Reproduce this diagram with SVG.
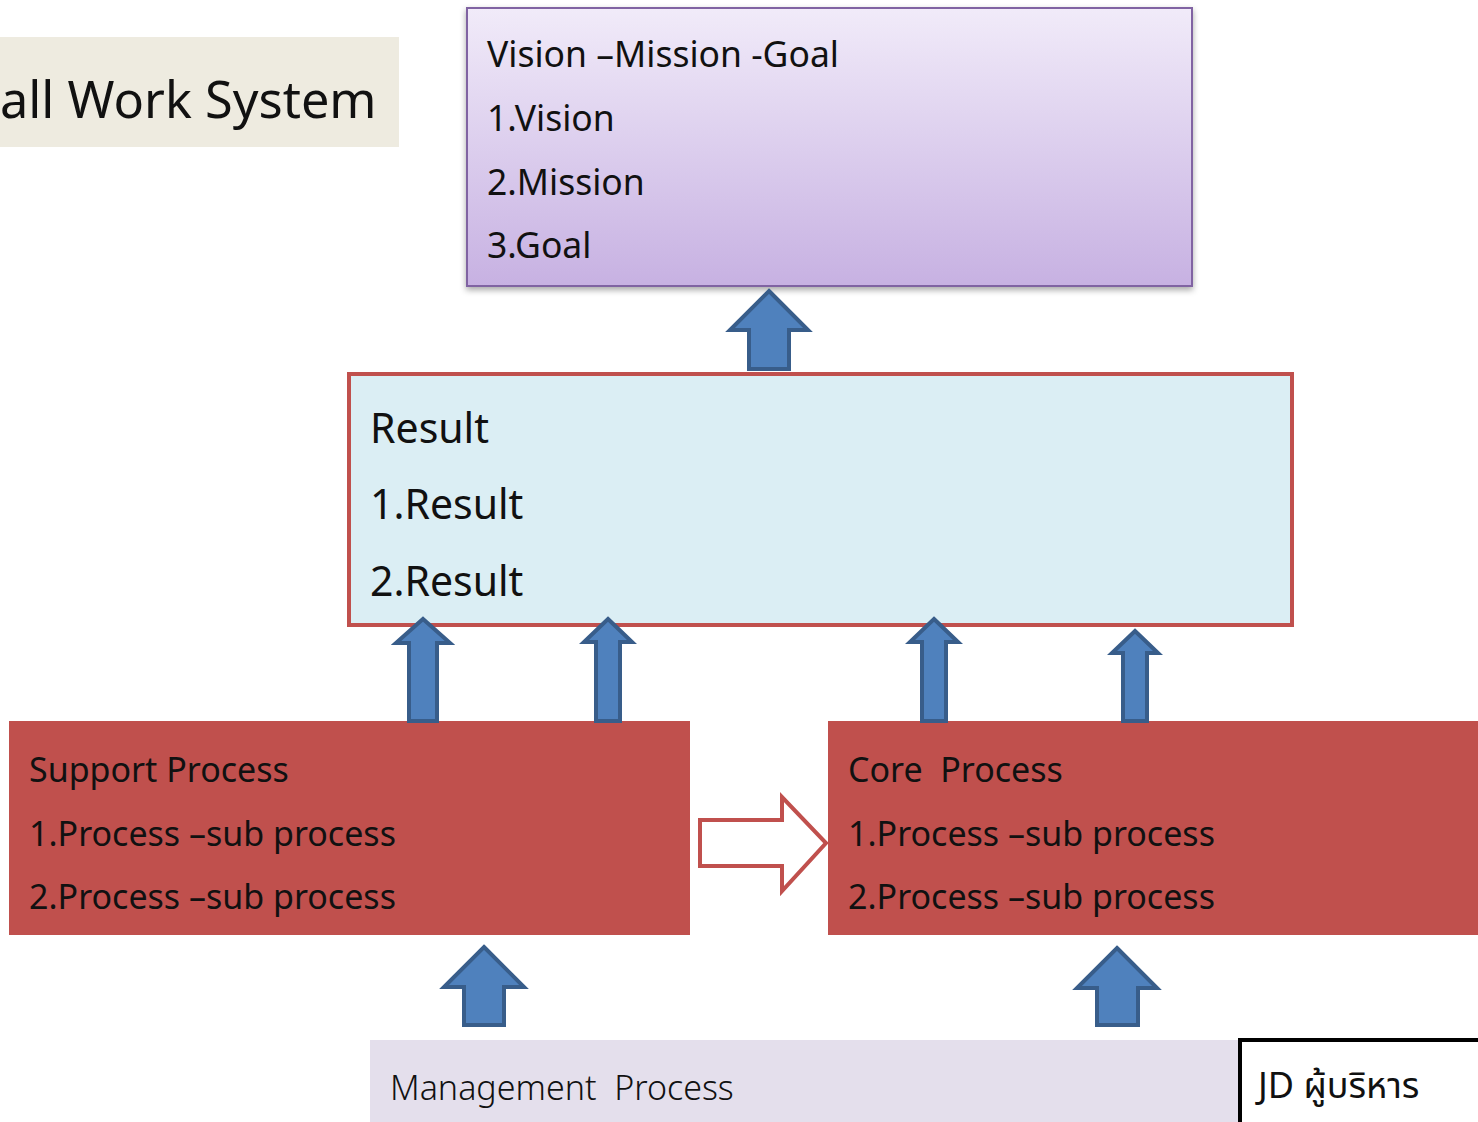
<svg xmlns="http://www.w3.org/2000/svg" width="1478" height="1122" viewBox="0 0 1478 1122">
<defs>
<linearGradient id="vg" x1="0" y1="0" x2="0" y2="1">
<stop offset="0" stop-color="#F1EBF9"/>
<stop offset="1" stop-color="#C7B1E2"/>
</linearGradient>
<filter id="sh" x="-5%" y="-5%" width="110%" height="115%">
<feDropShadow dx="0" dy="3" stdDeviation="3" flood-color="#000" flood-opacity="0.35"/>
</filter>
</defs>
<style>
text{font-family:"Noto Sans","Noto Sans Thai","DejaVu Sans",sans-serif;fill:#111;}
.t36{font-size:34px;}
.tv{font-size:35.5px;}
.t42{font-size:41px;}
.up{fill:#4F81BD;stroke:#385D8A;stroke-width:4;stroke-linejoin:miter;}
.proc{fill:#C0504D;}
</style>
<rect width="1478" height="1122" fill="#fff"/>
<g id="title">
<rect x="0" y="37" width="399" height="110" fill="#EEEBE0"/>
<text x="0" y="118" style="font-size:50.5px">all Work System</text>
</g>
<g id="vision">
<rect x="467" y="8" width="725" height="278" fill="url(#vg)" stroke="#8064A2" stroke-width="2" filter="url(#sh)"/>
<text class="tv" x="487" y="67">Vision –Mission -Goal</text>
<text class="tv" x="487" y="131">1.Vision</text>
<text class="tv" x="487" y="195">2.Mission</text>
<text class="tv" x="487" y="258">3.Goal</text>
</g>
<g id="result">
<rect x="349" y="374" width="943" height="251" fill="#DBEEF4" stroke="#C0504D" stroke-width="4"/>
<text class="t42" x="370" y="443">Result</text>
<text class="t42" x="370" y="519">1.Result</text>
<text class="t42" x="370" y="596">2.Result</text>
</g>
<g id="support">
<rect class="proc" x="9" y="721" width="681" height="214"/>
<text class="t36" x="29" y="782">Support Process</text>
<text class="t36" x="29" y="846">1.Process –sub process</text>
<text class="t36" x="29" y="909">2.Process –sub process</text>
</g>
<g id="core">
<rect class="proc" x="828" y="721" width="650" height="214"/>
<text class="t36" x="848" y="782">Core &#160;Process</text>
<text class="t36" x="848" y="846">1.Process –sub process</text>
<text class="t36" x="848" y="909">2.Process –sub process</text>
</g>
<g id="management">
<rect x="370" y="1040" width="880" height="82" fill="#E4DFEC"/>
<text class="t36" x="390" y="1100" style="font-weight:300">Management &#160;Process</text>
</g>
<g id="jd">
<rect x="1240" y="1040" width="240" height="84" fill="#fff" stroke="#000" stroke-width="4"/>
<text x="1258" y="1098" style="font-size:36px">JD ผู้บริหาร</text>
</g>
<g id="connectors">
<polygon class="up" points="769,291 808,330 789,330 789,369 749,369 749,330 730,330"/>
<polygon class="up" points="423,619 450,643 437,643 437,721 409,721 409,643 396,643"/>
<polygon class="up" points="608,619 632,642 620,642 620,721 596,721 596,642 584,642"/>
<polygon class="up" points="934,619 958,642 946,642 946,721 922,721 922,642 910,642"/>
<polygon class="up" points="1135,631 1158,653 1147,653 1147,721 1123,721 1123,653 1112,653"/>
<polygon class="up" points="484,947 524,987 504,987 504,1025 464,1025 464,987 444,987"/>
<polygon class="up" points="1117,948 1157,988 1138,988 1138,1025 1097,1025 1097,988 1077,988"/>
<polygon points="700,820 782,820 782,797 826,843 782,891 782,866 700,866" fill="#fff" stroke="#C0504D" stroke-width="4"/>
</g>
</svg>
